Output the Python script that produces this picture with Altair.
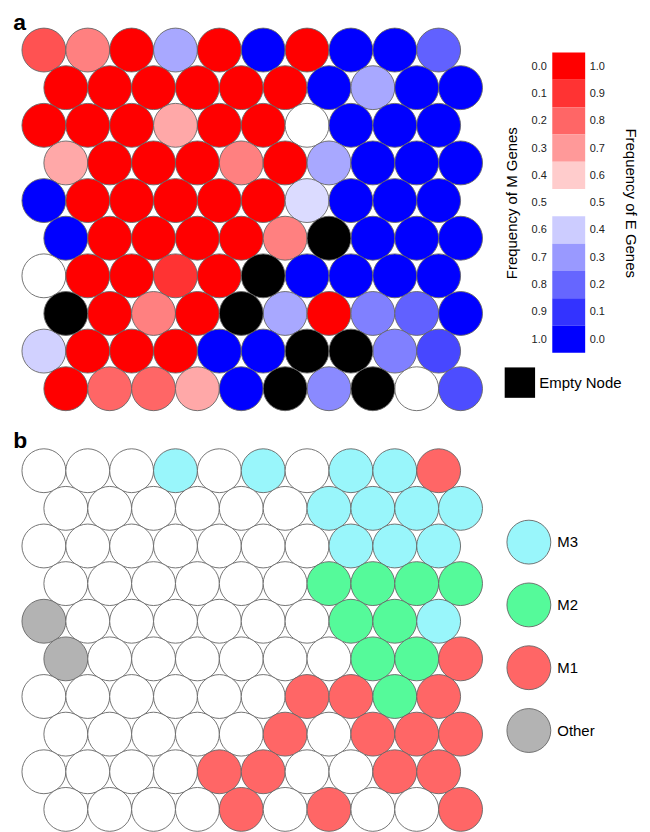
import altair as alt
import pandas as pd

# Panel a: frequency of E genes per SOM node (None = empty node)
E_FREQ = [
    [0.84, 0.75, 1.0, 0.33, 1.0, 0.0, 1.0, 0.0, 0.0, 0.19],
    [1.0, 1.0, 1.0, 1.0, 1.0, 1.0, 0.0, 0.33, 0.0, 0.0],
    [1.0, 1.0, 1.0, 0.67, 1.0, 1.0, 0.5, 0.0, 0.0, 0.0],
    [0.67, 1.0, 1.0, 1.0, 0.75, 1.0, 0.33, 0.0, 0.0, 0.0],
    [0.0, 1.0, 1.0, 1.0, 1.0, 1.0, 0.43, 0.0, 0.0, 0.0],
    [0.0, 1.0, 1.0, 1.0, 1.0, 0.75, None, 0.0, 0.0, 0.0],
    [0.5, 1.0, 1.0, 0.9, 1.0, None, 0.0, 0.0, 0.0, 0.0],
    [None, 1.0, 0.75, 1.0, None, 0.33, 1.0, 0.25, 0.19, 0.0],
    [0.41, 1.0, 1.0, 1.0, 0.0, 0.0, None, None, 0.25, 0.14],
    [1.0, 0.8, 0.8, 0.67, 0.0, None, 0.27, None, 0.5, 0.15],
]

# Panel b: cluster membership per node
CLUSTERS = [
    ["None", "None", "None", "M3", "None", "M3", "None", "M3", "M3", "M1"],
    ["None", "None", "None", "None", "None", "None", "M3", "M3", "M3", "M3"],
    ["None", "None", "None", "None", "None", "None", "None", "M3", "M3", "M3"],
    ["None", "None", "None", "None", "None", "None", "M2", "M2", "M2", "M2"],
    ["Other", "None", "None", "None", "None", "None", "None", "M2", "M2", "M3"],
    ["Other", "None", "None", "None", "None", "None", "None", "M2", "M2", "M1"],
    ["None", "None", "None", "None", "None", "None", "M1", "M1", "M2", "M1"],
    ["None", "None", "None", "None", "None", "M1", "None", "M1", "M1", "M1"],
    ["None", "None", "None", "None", "M1", "M1", "None", "None", "M1", "M1"],
    ["None", "None", "None", "None", "M1", "None", "M1", "None", "None", "M1"],
]

E_LEVELS = [1.0, 0.9, 0.8, 0.7, 0.6, 0.5, 0.4, 0.3, 0.2, 0.1, 0.0]
CLUSTER_NAMES = ["M3", "M2", "M1", "Other", "None"]
CLUSTER_COLORS = ["#99f6fb", "#55fa9a", "#ff6666", "#b3b3b3", "#ffffff"]

FONT = "Liberation Sans"

rows_a = []
for r, row in enumerate(E_FREQ):
    for c, v in enumerate(row):
        rows_a.append({"hx": c + 0.5 * (r % 2), "row": r, "E": v,
                       "kind": "Empty Node" if v is None else "node"})
df_a = pd.DataFrame(rows_a)

rows_b = []
for r, row in enumerate(CLUSTERS):
    for c, v in enumerate(row):
        rows_b.append({"hx": c + 0.5 * (r % 2), "row": r, "cluster": v})
df_b = pd.DataFrame(rows_b)

GW, GH = 462, 377.5
xenc = alt.X("hx:Q", scale=alt.Scale(domain=[-0.5, 10], nice=False, zero=False), axis=None)
yenc = alt.Y("row:Q", scale=alt.Scale(domain=[-0.5, 9.5], nice=False, zero=False, reverse=True), axis=None)

freq_scale = alt.Scale(domain=[0, 0.5, 1], range=["#0000ff", "#ffffff", "#ff0000"], interpolate="rgb")

circ = dict(size=1936, opacity=1, stroke="#666666", strokeWidth=0.9)

nodes_a = alt.Chart(df_a).transform_filter("datum.kind == 'node'").mark_circle(**circ).encode(
    x=xenc, y=yenc, fill=alt.Fill("E:Q", scale=freq_scale, legend=None)
)
empty_a = alt.Chart(df_a).transform_filter("datum.kind == 'Empty Node'").mark_circle(**circ).encode(
    x=xenc, y=yenc,
    fill=alt.Fill("kind:N", scale=alt.Scale(domain=["Empty Node"], range=["#000000"]),
                  legend=alt.Legend(title=None, orient="none", legendX=484, legendY=337,
                                    symbolType="square", symbolSize=930, symbolStrokeWidth=0,
                                    labelFontSize=15, labelOffset=4, labelFont=FONT,
                                    labelColor="#000000", padding=0))
)
grid_a = alt.layer(nodes_a, empty_a).resolve_scale(fill="independent").properties(
    width=GW, height=GH,
    title=alt.TitleParams("a", anchor="start", fontSize=23, fontWeight="bold", font=FONT, dx=-7, offset=-9)
)

leg_df = pd.DataFrame({"E": E_LEVELS})
leg_df["lo"] = leg_df["E"] - 0.05
leg_df["hi"] = leg_df["E"] + 0.05
leg_df["bar"] = "bar"
leg_scale = alt.Scale(domain=[-0.128, 1.128], nice=False, zero=False)
bar_x = alt.X("bar:N", axis=None, scale=alt.Scale(paddingInner=0, paddingOuter=0))
axis_common = dict(values=E_LEVELS, domain=False, ticks=False, tickSize=0, grid=False,
                   labelFontSize=11, labelFont=FONT, labelColor="#222222",
                   titleFontSize=15, titleFont=FONT, titleFontWeight="normal", titleColor="#000000")
leg_left = alt.Chart(leg_df).mark_rect().encode(
    x=bar_x,
    y=alt.Y("lo:Q", scale=leg_scale,
            axis=alt.Axis(orient="left", labelExpr="format(1 - datum.value, '.1f')",
                          title="Frequency of M Genes", labelPadding=6, titlePadding=12, **axis_common)),
    y2="hi:Q",
    fill=alt.Fill("E:Q", scale=freq_scale, legend=None),
)
leg_right = alt.Chart(leg_df).mark_rect(opacity=0).encode(
    x=bar_x,
    y=alt.Y("lo:Q", scale=leg_scale,
            axis=alt.Axis(orient="right", labelExpr="format(datum.value, '.1f')",
                          title="Frequency of E Genes", labelPadding=4, titlePadding=18, **axis_common)),
    y2="hi:Q",
)
leg_a = alt.layer(leg_left, leg_right).resolve_axis(y="independent").properties(width=33, height=344)

grid_b = alt.Chart(df_b).mark_circle(**circ).encode(
    x=xenc, y=yenc,
    fill=alt.Fill("cluster:N", scale=alt.Scale(domain=CLUSTER_NAMES, range=CLUSTER_COLORS),
                  legend=alt.Legend(values=CLUSTER_NAMES[:4], title=None, orient="none",
                                    legendX=486, legendY=68, symbolSize=1936,
                                    symbolStrokeColor="#666666", symbolStrokeWidth=0.9,
                                    rowPadding=14, labelFontSize=15, labelOffset=6,
                                    labelFont=FONT, labelColor="#000000", padding=0))
).properties(
    width=GW, height=GH,
    title=alt.TitleParams("b", anchor="start", fontSize=23, fontWeight="bold", font=FONT, dx=-7, offset=-6)
)

chart = alt.concat(grid_a, leg_a, grid_b, columns=2, bounds="flush",
                   spacing=alt.RowColnumber(row=44, column=70)).properties(
    padding={"left": 5, "top": 3, "right": 4, "bottom": 0}
).configure(font=FONT).configure_view(strokeWidth=0, stroke=None)

chart.save("out.html", embed_options={"renderer": "svg", "actions": False})
